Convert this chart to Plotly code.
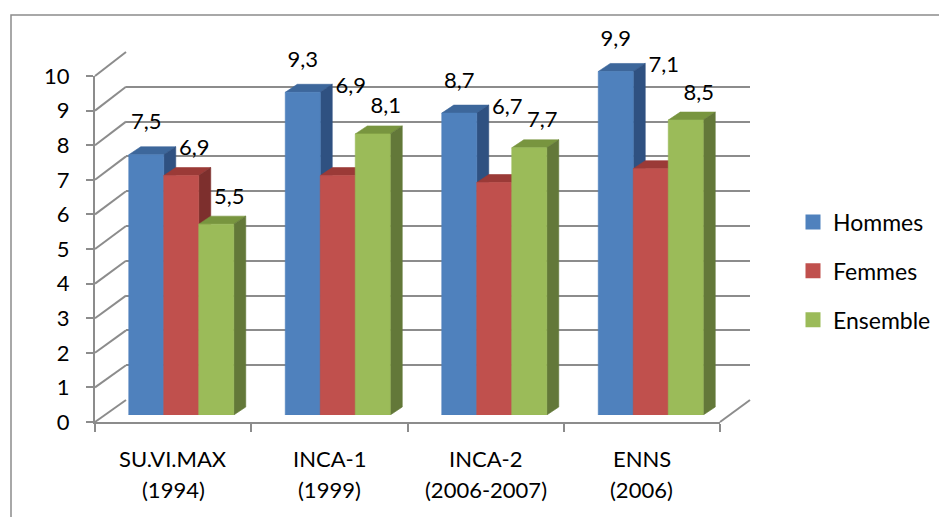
import plotly.graph_objects as go

# values
cat_names = ['SU.VI.MAX', 'INCA-1', 'INCA-2', 'ENNS']
cat_years = ['(1994)', '(1999)', '(2006-2007)', '(2006)']
series = ['Hommes', 'Femmes', 'Ensemble']
hommes = [7.5, 9.3, 8.7, 9.9]
femmes = [6.9, 6.9, 6.7, 7.1]
ensemble = [5.5, 8.1, 7.7, 8.5]
y_ticks = list(range(0, 11))

front_col = ['#4F81BD', '#C0504D', '#9BBB59']
top_col = ['#3D679B', '#9B3A37', '#78953F']
side_col = ['#2F5181', '#7D2F2D', '#637839']
grid_col = '#8C8C8C'
FONT = 'Lato'
FS = 22

# the page adds an 8px body margin, so the figure is drawn 8px smaller
OFF = 8
W, H = 947 - OFF, 517 - OFF
# plot area in window pixels (it spans the whole fake 3d box + label room)
L, R, T, B = 95, 750, 20, 422
pw, ph = R - L, B - T


def px(x):
    return (x - L) / pw


def py(y):
    return (B - y) / ph


front_x, front_y = [0, px(720)], [0, py(76)]
back_x, back_y = [px(126), 1], [py(400), py(52)]
# bar plane: 0 at 415px, 10 at 68px; range goes to 11 so labels are kept
bar_top = 11
bar_x = [px(103), px(729)]
bar_y = [py(415), py(415 - (415 - 68) * bar_top / 10)]

cat_px = (bar_x[1] - bar_x[0]) * pw / len(cat_names)
unit_px = (bar_y[1] - bar_y[0]) * ph / bar_top
bw = 35 / cat_px
dx, dy = 12 / cat_px, 8 / unit_px

fig = go.Figure()

# empty traces so the back wall and front axis subplots exist
for xa, ya in [('x', 'y'), ('x2', 'y2')]:
    fig.add_trace(go.Scatter(x=[None], y=[None], xaxis=xa, yaxis=ya,
                             showlegend=False, hoverinfo='skip'))

values = [hommes, femmes, ensemble]
for j, (name, vals) in enumerate(zip(series, values)):
    fx, fy, tx, ty, sx, sy = [], [], [], [], [], []
    for i, h in enumerate(vals):
        x0 = i - 1.5 * bw + j * bw
        x1 = x0 + bw
        fx += [x0, x1, x1, x0, x0, None]
        fy += [0, 0, h, h, 0, None]
        tx += [x0, x0 + dx, x1 + dx, x1, x0, None]
        ty += [h, h + dy, h + dy, h, h, None]
        sx += [x1, x1 + dx, x1 + dx, x1, x1, None]
        sy += [0, dy, h + dy, h, 0, None]
    for xs, ys, col in [(tx, ty, top_col[j]), (sx, sy, side_col[j]),
                        (fx, fy, front_col[j])]:
        fig.add_trace(go.Scatter(x=xs, y=ys, fill='toself', fillcolor=col,
                                 mode='lines', line=dict(color=col, width=0.6),
                                 xaxis='x3', yaxis='y3', showlegend=False,
                                 hoverinfo='skip'))


# data labels, placed like in the original
def fmt(v):
    return f'{v:.1f}'.replace('.', ',')


lab_x = [[i - bw for i in range(4)],
         [i + 13 / cat_px for i in range(4)],
         [i + bw + 13 / cat_px for i in range(4)]]
lab_y = [[h + 31 / unit_px for h in hommes],
         [h + 5 / unit_px for h in hommes],
         [h + 26 / unit_px for h in ensemble]]
for j, vals in enumerate(values):
    fig.add_trace(go.Scatter(x=lab_x[j], y=lab_y[j], mode='text',
                             text=[fmt(v) for v in vals],
                             textposition='middle center', cliponaxis=False,
                             textfont=dict(size=FS, color='black', family=FONT),
                             xaxis='x3', yaxis='y3', showlegend=False,
                             hoverinfo='skip'))

# legend entries
for j, name in enumerate(series):
    fig.add_trace(go.Scatter(x=[None], y=[None], mode='markers', name=name,
                             legendgroup=name,
                             marker=dict(symbol='square', size=15,
                                         color=front_col[j]),
                             xaxis='x3', yaxis='y3'))

# perspective lines of the side wall and the floor
shapes = []
for k in y_ticks:
    shapes.append(dict(type='line', xref='paper', yref='paper', layer='below',
                       x0=front_x[0],
                       y0=front_y[0] + k / 10 * (front_y[1] - front_y[0]),
                       x1=back_x[0],
                       y1=back_y[0] + k / 10 * (back_y[1] - back_y[0]),
                       line=dict(color=grid_col, width=2)))
shapes.append(dict(type='line', xref='paper', yref='paper', layer='below',
                   x0=front_x[1], y0=front_y[0], x1=back_x[1], y1=back_y[0],
                   line=dict(color=grid_col, width=2)))
# chart border
shapes.append(dict(type='rect', xref='paper', yref='paper', layer='below',
                   x0=px(11), y0=py(15), x1=px(990), y1=py(560),
                   line=dict(color='#8C8C8C', width=1.5)))

annotations = []
for i, (n, yr) in enumerate(zip(cat_names, cat_years)):
    for txt, ypix in [(n, 458), (yr, 490)]:
        annotations.append(dict(x=i, xref='x2', y=py(ypix), yref='paper',
                                text=txt, showarrow=False,
                                xanchor='center', yanchor='middle',
                                font=dict(size=FS, color='black', family=FONT)))

hidden = dict(visible=False, fixedrange=True)
fig.update_layout(
    width=W, height=H,
    margin=dict(l=L - OFF, r=W - (R - OFF), t=T - OFF, b=H - (B - OFF),
                autoexpand=False),
    paper_bgcolor='white', plot_bgcolor='rgba(0,0,0,0)',
    font=dict(family=FONT, size=FS, color='black'),
    showlegend=True,
    legend=dict(x=(793 - OFF) / W, xref='container', xanchor='left',
                y=1 - (271 - OFF) / H, yref='container', yanchor='middle',
                font=dict(size=FS + 1, color='black', family=FONT),
                tracegroupgap=16, bgcolor='rgba(0,0,0,0)'),
    # back wall with gridlines
    xaxis=dict(domain=back_x, range=[-0.5, 3.5], showgrid=False,
               zeroline=False, showticklabels=False, fixedrange=True),
    yaxis=dict(domain=back_y, range=[0, 10], tickvals=y_ticks,
               showgrid=True, gridcolor=grid_col, gridwidth=2,
               zeroline=False, showticklabels=False, fixedrange=True),
    # front axes
    xaxis2=dict(domain=front_x, anchor='y2', range=[-0.5, 3.5],
                tickvals=[-0.5, 0.5, 1.5, 2.5, 3.5], showticklabels=False,
                ticks='outside', ticklen=8, tickcolor=grid_col, tickwidth=2,
                showline=True, linecolor=grid_col, linewidth=2,
                showgrid=False, zeroline=False, fixedrange=True),
    yaxis2=dict(domain=front_y, anchor='x2', range=[0, 10], tickvals=y_ticks,
                ticks='outside', ticklen=7, tickcolor=grid_col, tickwidth=2,
                showline=True, linecolor=grid_col, linewidth=2,
                showgrid=False, zeroline=False, ticklabelstandoff=12,
                tickfont=dict(size=FS, color='black', family=FONT),
                fixedrange=True),
    # bars
    xaxis3=dict(domain=bar_x, anchor='y3', range=[-0.5, 3.5], **hidden),
    yaxis3=dict(domain=bar_y, anchor='x3', range=[0, bar_top], **hidden),
    shapes=shapes,
    annotations=annotations,
)

fig.write_html('out.html')
